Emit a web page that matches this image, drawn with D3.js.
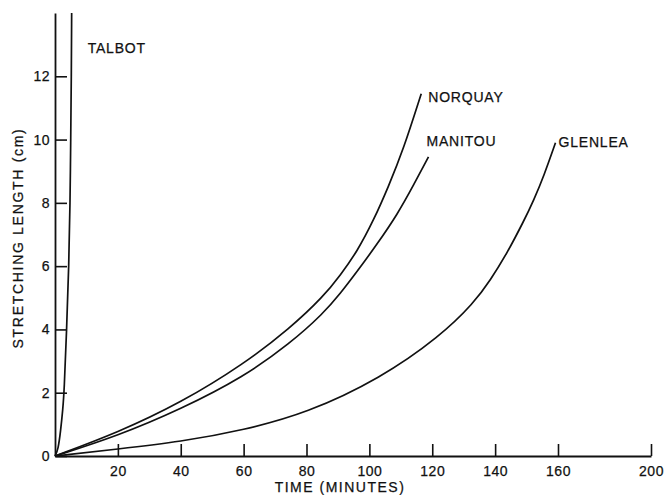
<!DOCTYPE html>
<html>
<head>
<meta charset="utf-8">
<script src="https://cdn.jsdelivr.net/npm/d3@7"></script>
<style>
  body { margin: 0; background: #fff; }
  svg text { font-family: "Liberation Sans", Arial, sans-serif; fill: #111; stroke: #111; stroke-width: 0.25px; }
</style>
</head>
<body>
<div id="wrapper"></div>
<script>
// data: [minutes, stretching length cm]
const talbot = [[0, 0], [1.0, 0.2], [1.8, 0.8], [2.5, 1.5], [2.9, 2], [3.7, 4], [4.4, 6], [4.8, 8], [5.0, 10], [5.2, 12], [5.3, 14]];
const norquay = [[0, 0], [20, 0.74], [40, 1.68], [60, 2.9], [74.8, 4.04], [85.4, 5.04], [90.8, 5.72], [96.1, 6.46], [101.4, 7.46], [106, 8.5], [110.8, 9.68], [116.5, 11.45]];
const manitou = [[0, 0], [20, 0.64], [40, 1.48], [60, 2.5], [74.8, 3.56], [85.4, 4.51], [90.8, 5.14], [96.1, 5.83], [102.5, 6.7], [109, 7.65], [114, 8.55], [118.8, 9.45]];
const glenlea = [[0, 0], [20, 0.22], [40, 0.45], [60, 0.82], [80, 1.35], [103.5, 2.45], [122.6, 3.79], [133.2, 4.83], [138.5, 5.56], [143.8, 6.41], [149.1, 7.42], [152.3, 8.09], [155.5, 8.85], [159.2, 9.9]];

const varieties = ['TALBOT', 'NORQUAY', 'MANITOU', 'GLENLEA'];
const seriesData = [talbot, norquay, manitou, glenlea];

const xTicks = [20, 40, 60, 80, 100, 120, 140, 160, 200];
const yTicks = [0, 2, 4, 6, 8, 10, 12];

// label placement relative to each curve's end
const labelOffset = {
    TALBOT: [16, 40],
    NORQUAY: [7, 8],
    MANITOU: [-2, -11],
    GLENLEA: [3, 4],
};

function draw() {
    const width = 667, height = 495;

    const svg = d3.select('#wrapper')
        .append('svg')
        .attr('width', width)
        .attr('height', height);

    // the time axis is compressed past 160 min (200 sits close to 160)
    const x = d3.scaleLinear()
        .domain([0, 160, 200])
        .range([55, 558, 651]);

    const y = d3.scaleLinear()
        .domain([0, 14])
        .range([456, 13]);

    const xAxis = d3.axisBottom(x)
        .tickValues(xTicks)
        .tickSizeInner(-12)
        .tickSizeOuter(0)
        .tickPadding(7)
        .tickFormat(d3.format('d'));

    const yAxis = d3.axisLeft(y)
        .tickValues(yTicks)
        .tickSizeInner(-12)
        .tickSizeOuter(0)
        .tickPadding(5)
        .tickFormat(d3.format('d'));

    const gx = svg.append('g')
        .attr('transform', `translate(0, ${y(0)})`)
        .call(xAxis);

    const gy = svg.append('g')
        .attr('transform', `translate(${x(0)}, 0)`)
        .call(yAxis);

    [gx, gy].forEach(g => {
        g.select('.domain').attr('stroke', '#111').attr('stroke-width', 1.8);
        g.selectAll('.tick line').attr('stroke', '#111').attr('stroke-width', 1.6);
        g.selectAll('.tick text')
            .attr('font-size', 14)
            .attr('fill', '#111')
            .style('letter-spacing', '0.5px');
    });
    gx.selectAll('.tick text').attr('dy', '0.9em');

    // curves - basis spline smooths out small reading errors
    const line = d3.line()
        .x(d => x(d[0]))
        .y(d => y(d[1]))
        .curve(d3.curveBasis);

    svg.append('g')
        .selectAll('path')
        .data(seriesData)
        .join('path')
        .attr('d', line)
        .attr('fill', 'none')
        .attr('stroke', '#111')
        .attr('stroke-width', 1.7);

    svg.append('g')
        .selectAll('text')
        .data(varieties)
        .join('text')
        .attr('x', (d, i) => x(seriesData[i][seriesData[i].length - 1][0]) + labelOffset[d][0])
        .attr('y', (d, i) => y(seriesData[i][seriesData[i].length - 1][1]) + labelOffset[d][1])
        .attr('font-size', 14)
        .style('letter-spacing', '0.8px')
        .text(d => d);

    // axis titles
    svg.append('text')
        .attr('x', 340)
        .attr('y', 492)
        .attr('text-anchor', 'middle')
        .attr('font-size', 14)
        .style('letter-spacing', '1.5px')
        .text('TIME (MINUTES)');

    svg.append('text')
        .attr('transform', 'translate(23, 238) rotate(-90)')
        .attr('text-anchor', 'middle')
        .attr('font-size', 14)
        .style('letter-spacing', '1.7px')
        .text('STRETCHING LENGTH (cm)');
}

draw();
</script>
</body>
</html>
